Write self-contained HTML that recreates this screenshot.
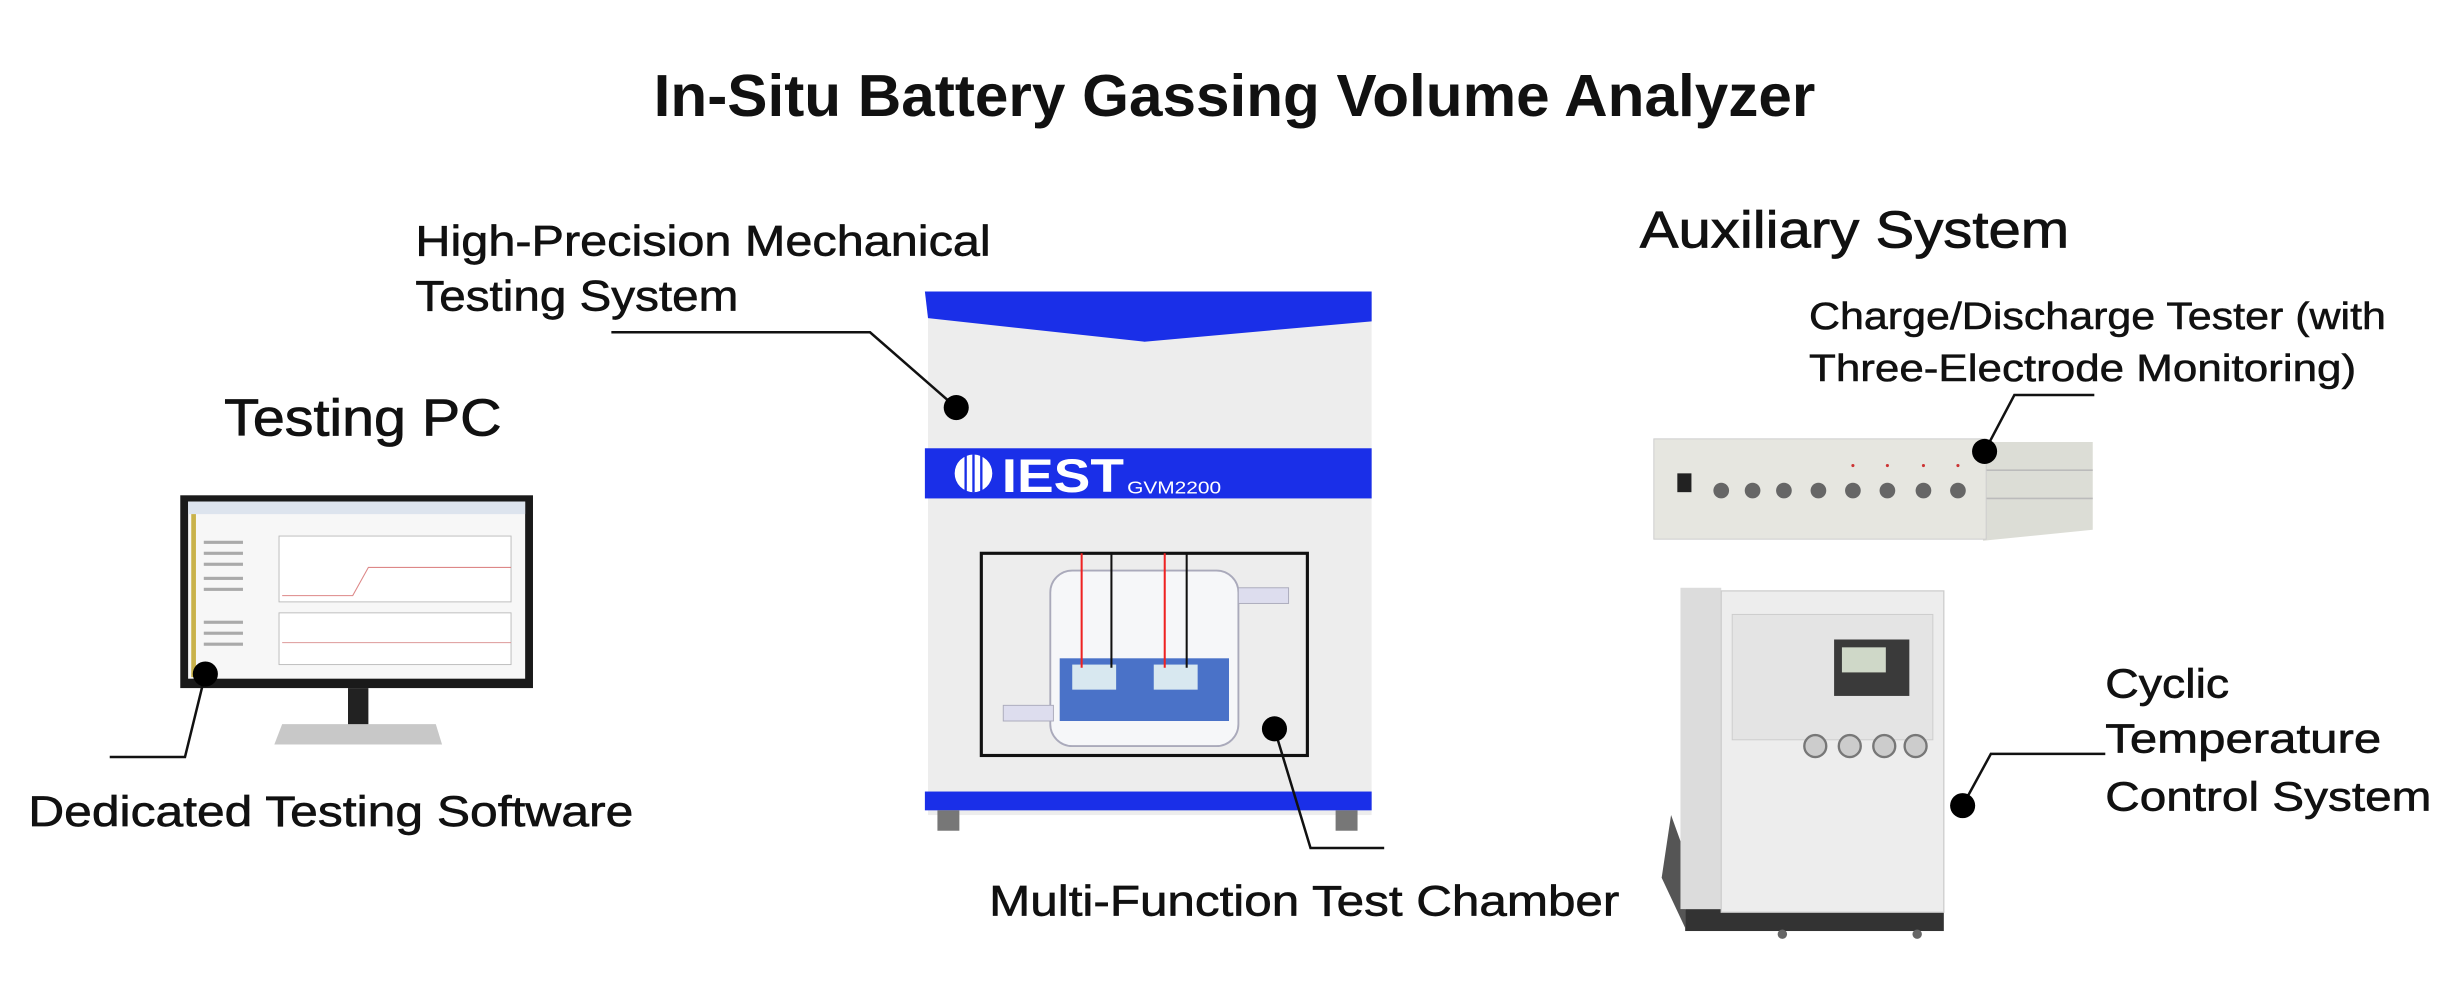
<!DOCTYPE html>
<html><head><meta charset="utf-8"><style>
html,body{margin:0;padding:0;background:#fff;}
svg{display:block;}
text{font-family:"Liberation Sans",sans-serif;fill:#111;}
</style></head><body>
<svg width="2458" height="1000" viewBox="0 0 1568 638" preserveAspectRatio="none" xmlns="http://www.w3.org/2000/svg">
<rect width="1568" height="638" fill="#fff"/>
<!-- Title -->
<text x="417" y="74" font-size="38" font-weight="bold" textLength="741" lengthAdjust="spacingAndGlyphs">In-Situ Battery Gassing Volume Analyzer</text>

<!-- Labels -->
<text x="265" y="163" font-size="27" textLength="367" lengthAdjust="spacingAndGlyphs" stroke="#111" stroke-width="0.4">High-Precision Mechanical</text>
<text x="265" y="198" font-size="27" textLength="206" lengthAdjust="spacingAndGlyphs" stroke="#111" stroke-width="0.4">Testing System</text>
<text x="143" y="278" font-size="33" textLength="177" lengthAdjust="spacingAndGlyphs" stroke="#111" stroke-width="0.5">Testing PC</text>
<text x="18" y="527" font-size="27" textLength="386" lengthAdjust="spacingAndGlyphs" stroke="#111" stroke-width="0.4">Dedicated Testing Software</text>
<text x="631" y="584" font-size="27" textLength="402" lengthAdjust="spacingAndGlyphs" stroke="#111" stroke-width="0.4">Multi-Function Test Chamber</text>
<text x="1046" y="158" font-size="33" textLength="274" lengthAdjust="spacingAndGlyphs" stroke="#111" stroke-width="0.5">Auxiliary System</text>
<text x="1154" y="210" font-size="24" textLength="368" lengthAdjust="spacingAndGlyphs" stroke="#111" stroke-width="0.35">Charge/Discharge Tester (with</text>
<text x="1154" y="243" font-size="24" textLength="349" lengthAdjust="spacingAndGlyphs" stroke="#111" stroke-width="0.35">Three-Electrode Monitoring)</text>
<text x="1343" y="445" font-size="26" textLength="79" lengthAdjust="spacingAndGlyphs" stroke="#111" stroke-width="0.4">Cyclic</text>
<text x="1343" y="480" font-size="26" textLength="176" lengthAdjust="spacingAndGlyphs" stroke="#111" stroke-width="0.4">Temperature</text>
<text x="1343" y="517" font-size="26" textLength="208" lengthAdjust="spacingAndGlyphs" stroke="#111" stroke-width="0.4">Control System</text>

<!-- Monitor -->
<rect x="115" y="316" width="225" height="123" fill="#1a1a1a"/>
<rect x="120" y="320" width="215" height="113" fill="#f7f7f7"/>
<rect x="120" y="320" width="215" height="8" fill="#dde4ee"/>
<rect x="122" y="328" width="3" height="104" fill="#c9b24a"/>
<rect x="178" y="342" width="148" height="42" fill="#fff" stroke="#bbb" stroke-width="0.6"/>
<polyline points="180,380 225,380 235,362 326,362" fill="none" stroke="#d88" stroke-width="0.7"/>
<rect x="178" y="391" width="148" height="33" fill="#fff" stroke="#bbb" stroke-width="0.6"/>
<line x1="180" y1="410" x2="326" y2="410" stroke="#d99" stroke-width="0.6"/>
<g fill="#aaa"><rect x="130" y="345" width="25" height="2"/><rect x="130" y="352" width="25" height="2"/><rect x="130" y="359" width="25" height="2"/><rect x="130" y="368" width="25" height="2"/><rect x="130" y="375" width="25" height="2"/><rect x="130" y="396" width="25" height="2"/><rect x="130" y="403" width="25" height="2"/><rect x="130" y="410" width="25" height="2"/></g>
<rect x="222" y="439" width="13" height="24" fill="#222"/>
<path d="M180 462 L278 462 L282 475 L175 475 Z" fill="#c8c8c8"/>

<!-- Main machine -->
<rect x="592" y="190" width="283" height="330" fill="#ededed"/>
<path d="M590 186 L875 186 L875 205 L730 218 L592 203 Z" fill="#1a2fe8"/>
<rect x="590" y="286" width="285" height="32" fill="#1a2fe8"/>
<circle cx="621" cy="302" r="12" fill="#fff"/>
<g stroke="#1a2fe8" stroke-width="1.5"><line x1="616" y1="290" x2="616" y2="314"/><line x1="621" y1="290" x2="621" y2="314"/><line x1="626" y1="290" x2="626" y2="314"/></g>
<text x="639" y="314" font-size="30" font-weight="bold" style="fill:#fff" textLength="78" lengthAdjust="spacingAndGlyphs">IEST</text>
<text x="719" y="315" font-size="11" style="fill:#fff" textLength="60" lengthAdjust="spacingAndGlyphs">GVM2200</text>
<rect x="590" y="505" width="285" height="12" fill="#1a2fe8"/>
<rect x="598" y="517" width="14" height="13" fill="#777"/>
<rect x="852" y="517" width="14" height="13" fill="#777"/>
<!-- chamber -->
<rect x="626" y="353" width="208" height="129" fill="#ededed" stroke="#111" stroke-width="2"/>
<rect x="670" y="364" width="120" height="112" rx="14" fill="#f6f7f9" stroke="#aab" stroke-width="1.2"/>
<rect x="790" y="375" width="32" height="10" fill="#dde" stroke="#aab" stroke-width="0.6"/>
<rect x="640" y="450" width="32" height="10" fill="#dde" stroke="#aab" stroke-width="0.6"/>
<rect x="676" y="420" width="108" height="40" fill="#4a72c8"/>
<rect x="684" y="424" width="28" height="16" fill="#d8e8f0"/>
<rect x="736" y="424" width="28" height="16" fill="#d8e8f0"/>
<g stroke-width="1.3"><line x1="690" y1="353" x2="690" y2="426" stroke="#e22"/><line x1="709" y1="353" x2="709" y2="426" stroke="#111"/><line x1="743" y1="353" x2="743" y2="426" stroke="#e22"/><line x1="757" y1="353" x2="757" y2="426" stroke="#111"/></g>

<!-- Charger -->
<path d="M1265 282 L1335 282 L1335 338 L1265 345 Z" fill="#dcddd6"/>
<g stroke="#bbb" stroke-width="1"><line x1="1267" y1="300" x2="1335" y2="300"/><line x1="1267" y1="318" x2="1335" y2="318"/></g>
<rect x="1055" y="280" width="212" height="64" fill="#e6e6e0" stroke="#ccc" stroke-width="0.6"/>
<rect x="1070" y="302" width="9" height="12" fill="#222"/>
<g fill="#666"><circle cx="1098" cy="313" r="5"/><circle cx="1118" cy="313" r="5"/><circle cx="1138" cy="313" r="5"/><circle cx="1160" cy="313" r="5"/><circle cx="1182" cy="313" r="5"/><circle cx="1204" cy="313" r="5"/><circle cx="1227" cy="313" r="5"/><circle cx="1249" cy="313" r="5"/></g>
<g fill="#c33"><circle cx="1182" cy="297" r="1"/><circle cx="1204" cy="297" r="1"/><circle cx="1227" cy="297" r="1"/><circle cx="1249" cy="297" r="1"/></g>

<!-- Chiller -->
<path d="M1066 520 L1075 545 L1075 592 L1060 560 Z" fill="#555"/>
<rect x="1075" y="580" width="165" height="14" fill="#333"/>
<rect x="1072" y="375" width="26" height="205" fill="#dcdcdc"/>
<rect x="1098" y="377" width="142" height="205" fill="#ededed" stroke="#ccc" stroke-width="0.8"/>
<rect x="1105" y="392" width="128" height="80" fill="#e4e4e4" stroke="#ccc" stroke-width="0.6"/>
<rect x="1170" y="408" width="48" height="36" fill="#3a3a3a"/>
<rect x="1175" y="413" width="28" height="16" fill="#cfd8c8"/>
<g fill="#ccc" stroke="#777" stroke-width="1.5"><circle cx="1158" cy="476" r="7"/><circle cx="1180" cy="476" r="7"/><circle cx="1202" cy="476" r="7"/><circle cx="1222" cy="476" r="7"/></g>
<g fill="#666"><circle cx="1137" cy="596" r="3"/><circle cx="1223" cy="596" r="3"/></g>

<!-- Connectors -->
<g stroke="#111" stroke-width="1.6" fill="none">
<polyline points="390,212 555,212 610,260"/>
<polyline points="131,430 118,483 70,483"/>
<polyline points="813,465 836,541 883,541"/>
<polyline points="1266,288 1285,252 1336,252"/>
<polyline points="1252,514 1270,481 1343,481"/>
</g>
<g fill="#000">
<circle cx="610" cy="260" r="8"/>
<circle cx="131" cy="430" r="8"/>
<circle cx="813" cy="465" r="8"/>
<circle cx="1266" cy="288" r="8"/>
<circle cx="1252" cy="514" r="8"/>
</g>
</svg>
</body></html>
